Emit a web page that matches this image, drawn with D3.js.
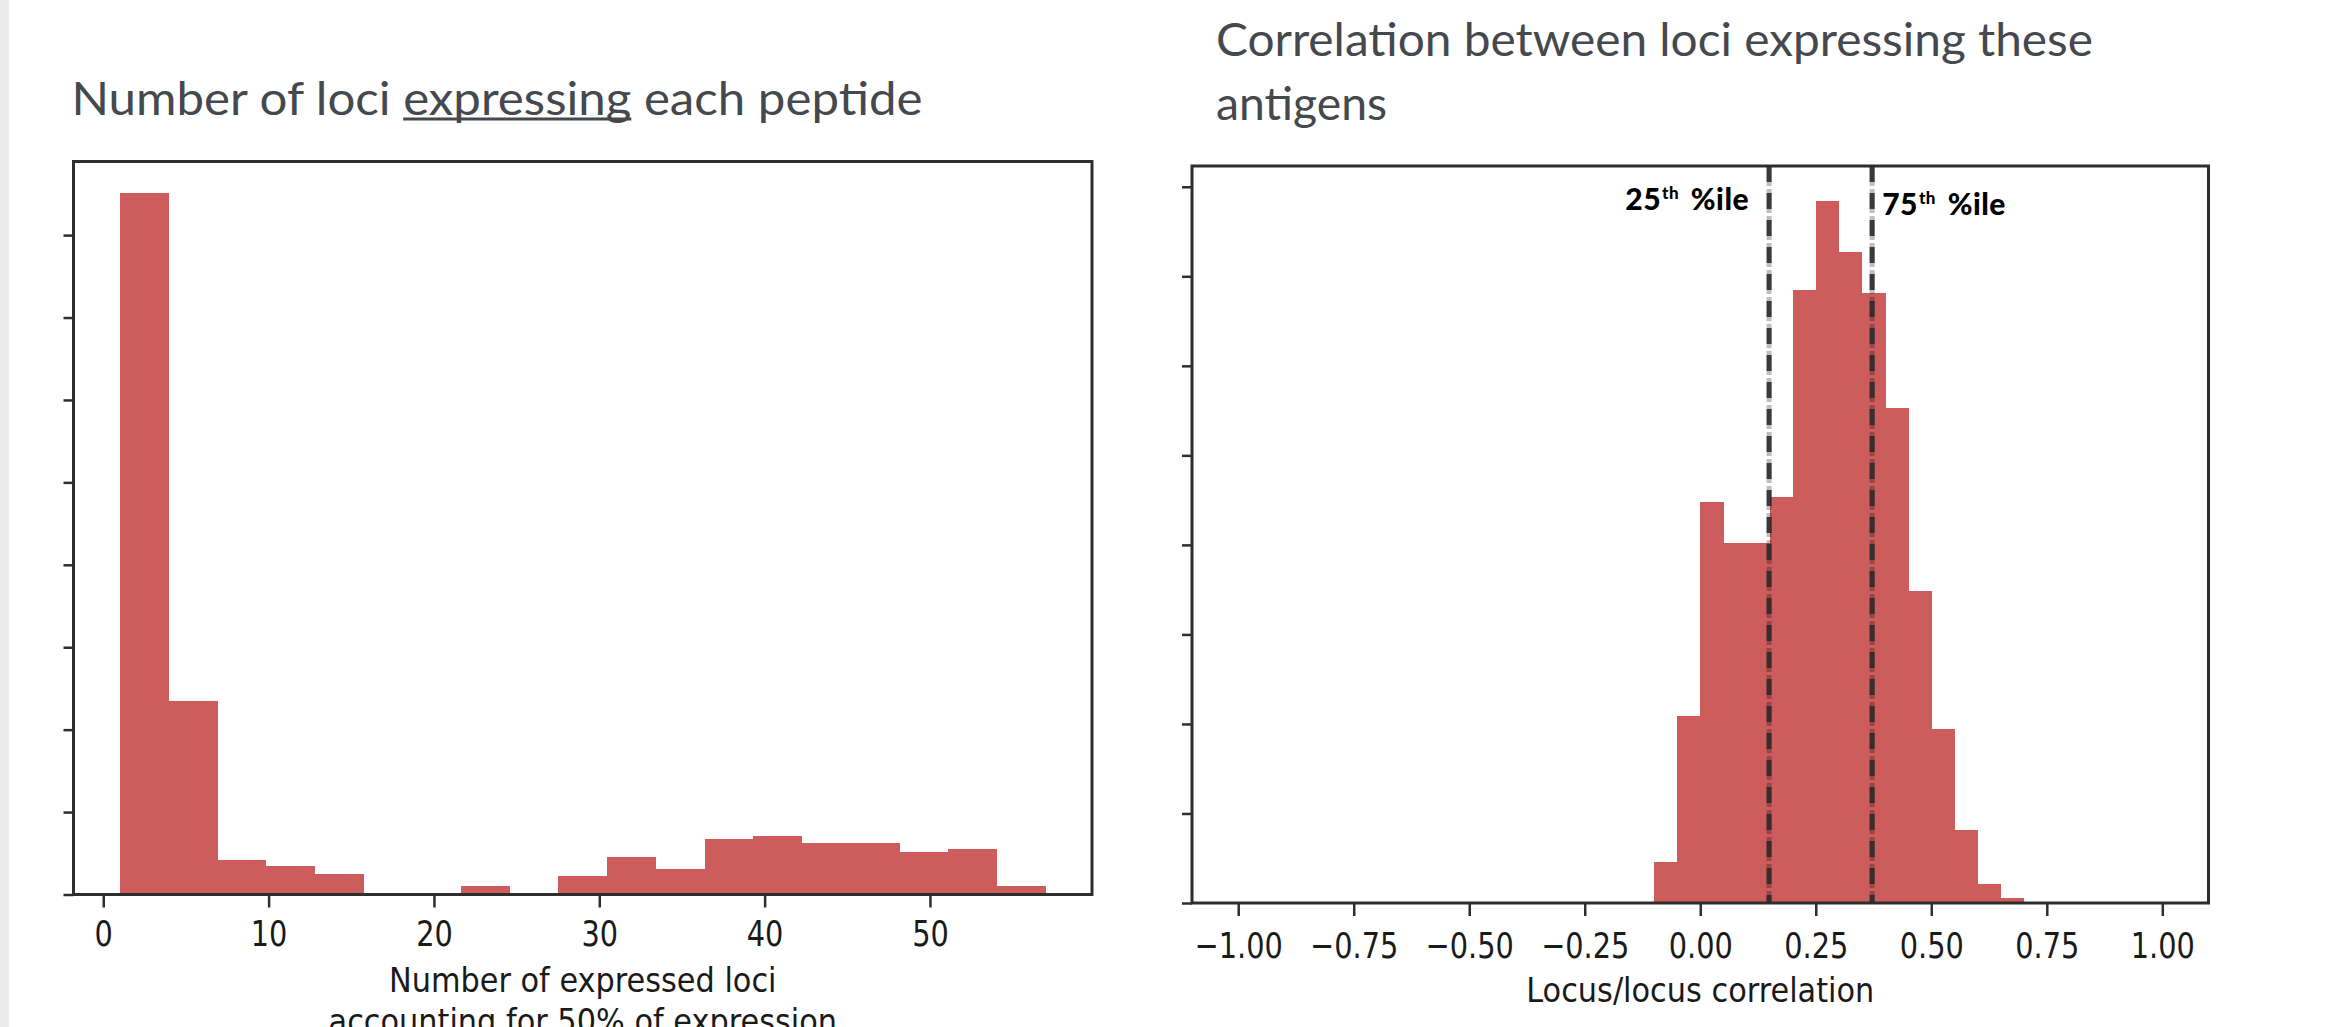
<!DOCTYPE html>
<html>
<head>
<meta charset="utf-8">
<script src="https://cdn.jsdelivr.net/npm/d3@7"></script>
<style>
  body { margin: 0; background: #fff; }
  svg { display: block; }
</style>
</head>
<body>
<script>
// Left histogram: number of expressed loci accounting for 50% of expression
const lociBinEdges = [1, 3.95, 6.89, 9.84, 12.79, 15.74, 18.68, 21.63, 24.58, 27.53, 30.47, 33.42, 36.37, 39.32, 42.26, 45.21, 48.16, 51.11, 54.05, 57];
const lociCounts = [85.1, 23.5, 4.2, 3.4, 2.5, 0, 0, 1.0, 0, 2.2, 4.6, 3.1, 6.7, 7.1, 6.3, 6.3, 5.2, 5.5, 1.0];
const lociXTicks = [0, 10, 20, 30, 40, 50];
const lociYTicks = [0, 10, 20, 30, 40, 50, 60, 70, 80];
const lociXLabel = ["Number of expressed loci", "accounting for 50% of expression"];

// Right histogram: locus/locus correlation
const corrBinEdges = [-0.10, -0.05, 0.00, 0.05, 0.10, 0.15, 0.20, 0.25, 0.30, 0.35, 0.40, 0.45, 0.50, 0.55, 0.60, 0.65, 0.70];
const corrCounts = [4.6, 20.9, 44.8, 40.2, 40.2, 45.4, 68.5, 78.4, 72.7, 68.1, 55.3, 34.9, 19.4, 8.1, 2.1, 0.6];
const corrXTicks = [-1, -0.75, -0.5, -0.25, 0, 0.25, 0.5, 0.75, 1];
const corrYTicks = [0, 10, 20, 30, 40, 50, 60, 70, 80];
const corrXLabel = ["Locus/locus correlation"];

// Percentile markers
const percentileValues = [0.149, 0.372];
const percentileNames = ["25", "75"];

const W = 2333, H = 1027;
const barColor = "#cd5c5c";
const inkColor = "#2e2e2e";
const titleColor = "#45484d";

const svg = d3.select("body")
    .append("svg")
    .attr("width", W)
    .attr("height", H);

// Grey strip on the left edge of the slide
svg.append("rect")
    .attr("x", 0).attr("y", 0)
    .attr("width", 9).attr("height", H)
    .attr("fill", "#ebebeb");

function drawPanel(p) {
    const g = svg.append("g");

    const lo = p.edges[0], hi = p.edges[p.edges.length - 1];
    const x = d3.scaleLinear()
        .domain(p.xDomain || [lo - 0.05 * (hi - lo), hi + 0.05 * (hi - lo)])
        .range([p.left, p.right]);
    const y = d3.scaleLinear()
        .domain([0, d3.max(p.counts) * p.headroom])
        .range([p.bottom, p.top]);

    // Bars
    g.selectAll("rect.bar")
        .data(p.counts)
        .join("rect")
        .attr("class", "bar")
        .attr("x", (d, i) => x(p.edges[i]))
        .attr("width", (d, i) => x(p.edges[i + 1]) - x(p.edges[i]) + 0.5)
        .attr("y", d => y(d))
        .attr("height", d => p.bottom - y(d))
        .attr("fill", barColor)
        .attr("shape-rendering", "crispEdges");

    // X axis
    const xAxis = g.append("g")
        .attr("transform", `translate(0,${p.bottom})`)
        .call(d3.axisBottom(x).tickValues(p.xTicks).tickSize(13).tickSizeOuter(0).tickFormat(p.xFormat));
    xAxis.select(".domain").remove();
    xAxis.selectAll(".tick line").attr("stroke", inkColor).attr("stroke-width", 2.5);
    xAxis.selectAll(".tick text")
        .attr("y", p.tickDrop)
        .attr("dy", null)
        .attr("transform", "scale(0.8,1)")
        .attr("font-family", "DejaVu Sans")
        .attr("font-size", 36)
        .attr("fill", "#1a1a1a");

    // Y axis (ticks only, no labels)
    const yAxis = g.append("g")
        .attr("transform", `translate(${p.left},0)`)
        .call(d3.axisLeft(y).tickValues(p.yTicks).tickSize(10).tickSizeOuter(0).tickFormat(""));
    yAxis.select(".domain").remove();
    yAxis.selectAll(".tick line").attr("stroke", inkColor).attr("stroke-width", 2.5);

    // Frame
    g.append("rect")
        .attr("x", p.left)
        .attr("y", p.top)
        .attr("width", p.right - p.left)
        .attr("height", p.bottom - p.top)
        .attr("fill", "none")
        .attr("stroke", inkColor)
        .attr("stroke-width", 3);

    // Axis label
    p.xLabel.forEach((t, i) => {
        g.append("text")
            .attr("transform", `translate(${(p.left + p.right) / 2},${p.labelBaseline + i * 41}) scale(0.92,1)`)
            .attr("text-anchor", "middle")
            .attr("font-family", "DejaVu Sans")
            .attr("font-size", 33)
            .attr("fill", "#1a1a1a")
            .text(t);
    });

    return { g, x, y };
}

// Left panel
drawPanel({
    edges: lociBinEdges, counts: lociCounts,
    xTicks: lociXTicks, yTicks: lociYTicks, xLabel: lociXLabel,
    xFormat: d3.format("d"),
    left: 73.5, right: 1092, top: 161.5, bottom: 894.5,
    headroom: 1.045, tickDrop: 52, labelBaseline: 992
});

// Right panel
const right = drawPanel({
    edges: corrBinEdges, counts: corrCounts,
    xTicks: corrXTicks, yTicks: corrYTicks, xLabel: corrXLabel,
    xDomain: [-1.1, 1.1],
    xFormat: d3.format(".2f"),
    left: 1192, right: 2208.5, top: 166, bottom: 903,
    headroom: 1.05, tickDrop: 55, labelBaseline: 1002
});

// Percentile dashed lines
percentileValues.forEach((v, i) => {
    const px = right.x(v);
    right.g.append("line")
        .attr("x1", px).attr("x2", px)
        .attr("y1", 166).attr("y2", 903)
        .attr("stroke", "rgba(0,0,0,0.25)")
        .attr("stroke-width", 5)
        .attr("stroke-dasharray", "20 3 4 0");
    right.g.append("line")
        .attr("x1", px).attr("x2", px)
        .attr("y1", 166).attr("y2", 903)
        .attr("stroke", "#2b2b2b")
        .attr("stroke-opacity", 0.9)
        .attr("stroke-width", 5)
        .attr("stroke-dasharray", "16 11");

    const label = right.g.append("text")
        .attr("x", i === 0 ? px - 20 : px + 10)
        .attr("y", i === 0 ? 210 : 215)
        .attr("text-anchor", i === 0 ? "end" : "start")
        .attr("font-family", "Lato")
        .attr("font-weight", 900)
        .attr("font-size", 30)
        .attr("letter-spacing", 0.5)
        .attr("fill", "#000");
    label.append("tspan").text(percentileNames[i]);
    label.append("tspan").attr("font-size", 17).attr("dy", -11).attr("dx", 1).text("th");
    label.append("tspan").attr("dy", 11).attr("dx", 4).text(" %ile");
});

// Titles
const leftTitle = svg.append("text")
    .attr("x", 71.5)
    .attr("y", 115)
    .attr("font-family", "Lato")
    .attr("font-size", 46)
    .attr("fill", titleColor)
    .attr("textLength", 851)
    .attr("lengthAdjust", "spacingAndGlyphs")
    .text("Number of loci expressing each peptide");

// Underline "expressing"
const tNode = leftTitle.node();
const uStart = tNode.getStartPositionOfChar(15).x;
const uEnd = tNode.getEndPositionOfChar(24).x;
svg.append("line")
    .attr("x1", uStart).attr("x2", uEnd)
    .attr("y1", 119).attr("y2", 119)
    .attr("stroke", titleColor)
    .attr("stroke-width", 3);

svg.append("text")
    .attr("x", 1216)
    .attr("y", 56)
    .attr("font-family", "Lato")
    .attr("font-size", 46)
    .attr("fill", titleColor)
    .attr("textLength", 877)
    .attr("lengthAdjust", "spacingAndGlyphs")
    .text("Correlation between loci expressing these");

svg.append("text")
    .attr("x", 1216)
    .attr("y", 120)
    .attr("font-family", "Lato")
    .attr("font-size", 46)
    .attr("fill", titleColor)
    .attr("textLength", 171)
    .attr("lengthAdjust", "spacingAndGlyphs")
    .text("antigens");
</script>
</body>
</html>
